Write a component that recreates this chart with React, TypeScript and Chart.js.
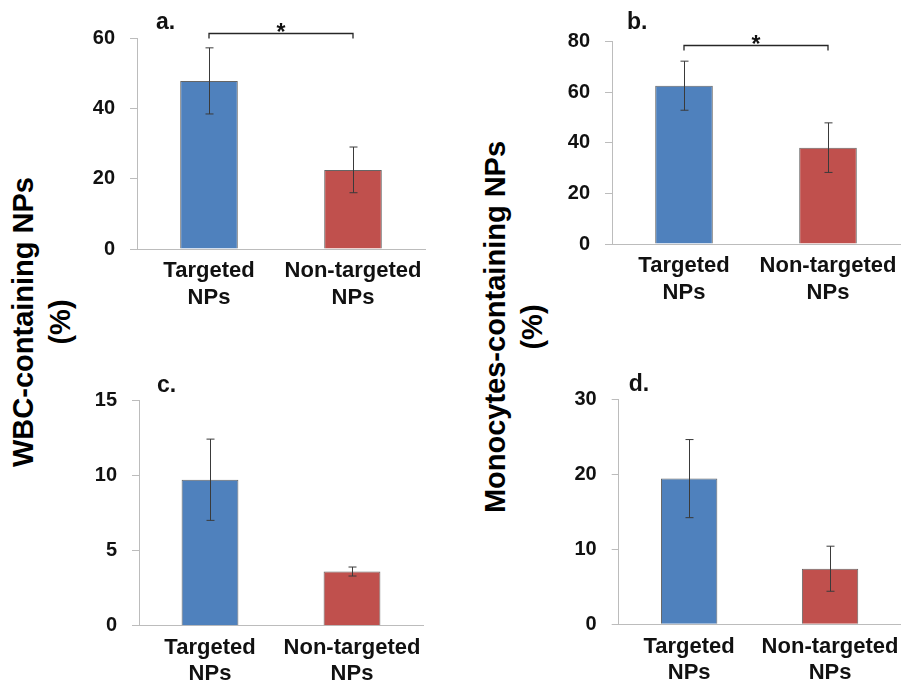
import React, { useEffect, useRef } from 'react';
import { Chart, registerables } from 'chart.js';

Chart.register(...registerables);

// ---------- data ----------
const categories: string[][] = [['Targeted', 'NPs'], ['Non-targeted', 'NPs']];

const wbcAllMeans = [47.8, 22.5];
const wbcAllErrors = [9.4, 6.5];

const monoAllMeans = [62.6, 38.1];
const monoAllErrors = [9.7, 9.8];

const wbcSubMeans = [9.7, 3.6];
const wbcSubErrors = [2.7, 0.3];

const monoSubMeans = [19.4, 7.4];
const monoSubErrors = [5.2, 3.0];

const panelLabels = ['a.', 'b.', 'c.', 'd.'];
const yMaxes = [60, 80, 15, 30];
const ySteps = [20, 20, 5, 10];
const significanceLevels: (number | null)[] = [61.4, 78.8, null, null];
const significanceMark = '*';

const yTitleLeft = ['WBC-containing NPs', '(%)'];
const yTitleRight = ['Monocytes-containing NPs', '(%)'];

const barColors = ['#4F81BD', '#C0504D'];

// ---------- layout (page pixels) ----------
type Box = { x: number; y: number; w: number; h: number };
type Plot = { l: number; t: number; r: number; b: number };
const panelLayouts: { canvas: Box; plot: Plot; label: { dx: number; base: number } }[] = [
  { canvas: { x: 80, y: 0, w: 360, h: 330 }, plot: { l: 137, t: 38, r: 425, b: 249 }, label: { dx: 19, base: 29 } },
  { canvas: { x: 555, y: 0, w: 354, h: 330 }, plot: { l: 612, t: 41.7, r: 900, b: 244 }, label: { dx: 15, base: 29 } },
  { canvas: { x: 80, y: 360, w: 360, h: 329 }, plot: { l: 139, t: 400, r: 423, b: 625.7 }, label: { dx: 18, base: 392 } },
  { canvas: { x: 555, y: 360, w: 354, h: 329 }, plot: { l: 618.7, t: 399, r: 903, b: 624.3 }, label: { dx: 10, base: 391 } },
];

const FONT = "'Liberation Sans', Arial, Helvetica, sans-serif";

function Panel(props: { index: number; means: number[]; errors: number[] }) {
  const ref = useRef<HTMLCanvasElement | null>(null);
  const { index, means, errors } = props;
  const lay = panelLayouts[index];

  useEffect(() => {
    if (!ref.current) return;
    const c = lay.canvas;
    const p = lay.plot;
    const yAxisWidth = p.l - c.x;
    const xAxisHeight = c.y + c.h - p.b;

    const overlay = {
      id: 'overlay' + index,
      afterDatasetsDraw(chart: any) {
        const ctx = chart.ctx;
        const yScale = chart.scales.y;
        const meta = chart.getDatasetMeta(0);
        ctx.save();
        // error bars
        ctx.strokeStyle = '#3a3a3a';
        ctx.lineWidth = 1;
        meta.data.forEach((bar: any, i: number) => {
          const x = Math.round(bar.x) + 0.5;
          const yTop = yScale.getPixelForValue(means[i] + errors[i]);
          const yBot = yScale.getPixelForValue(means[i] - errors[i]);
          ctx.beginPath();
          ctx.moveTo(x, yTop);
          ctx.lineTo(x, yBot);
          ctx.moveTo(x - 4, yTop);
          ctx.lineTo(x + 4, yTop);
          ctx.moveTo(x - 4, yBot);
          ctx.lineTo(x + 4, yBot);
          ctx.stroke();
        });
        // significance bracket
        const lvl = significanceLevels[index];
        if (lvl !== null) {
          const yb = Math.round(yScale.getPixelForValue(lvl)) + 0.5;
          const x0 = meta.data[0].x;
          const x1 = meta.data[1].x;
          ctx.strokeStyle = '#262626';
          ctx.lineWidth = 1.3;
          ctx.beginPath();
          ctx.moveTo(x0, yb + 5);
          ctx.lineTo(x0, yb);
          ctx.lineTo(x1, yb);
          ctx.lineTo(x1, yb + 5);
          ctx.stroke();
          ctx.fillStyle = '#111';
          ctx.font = `bold 23px ${FONT}`;
          ctx.textAlign = 'center';
          ctx.textBaseline = 'alphabetic';
          ctx.fillText(significanceMark, (x0 + x1) / 2, yb + 6);
        }
        // panel label
        ctx.fillStyle = '#111';
        ctx.font = `bold 23px ${FONT}`;
        ctx.textAlign = 'left';
        ctx.textBaseline = 'alphabetic';
        ctx.fillText(panelLabels[index], chart.chartArea.left + lay.label.dx, lay.label.base - c.y);
        ctx.restore();
      },
    };

    const chart = new Chart(ref.current, {
      type: 'bar',
      data: {
        labels: categories,
        datasets: [
          {
            data: means,
            backgroundColor: barColors,
            borderColor: 'rgba(50,50,50,0.75)',
            borderWidth: 1,
            categoryPercentage: 1,
            barPercentage: 0.4,
          },
        ],
      },
      options: {
        animation: false,
        responsive: false,
        maintainAspectRatio: false,
        events: [],
        layout: {
          padding: { left: 0, top: p.t - c.y, right: c.x + c.w - p.r, bottom: 0 },
        },
        plugins: {
          legend: { display: false },
          tooltip: { enabled: false },
          title: { display: false },
        },
        scales: {
          x: {
            grid: { display: false, drawTicks: false },
            border: { display: true, color: '#bcbcbc', width: 1 },
            ticks: {
              color: '#111',
              font: { family: FONT, size: 22, weight: 'bold', lineHeight: 1.2 },
              padding: 9,
              maxRotation: 0,
              minRotation: 0,
              autoSkip: false,
            },
            afterFit: (scale: any) => {
              scale.height = xAxisHeight;
            },
          },
          y: {
            min: 0,
            max: yMaxes[index],
            grid: { display: true, drawOnChartArea: false, drawTicks: true, tickLength: 7, color: '#bcbcbc' },
            border: { display: true, color: '#bcbcbc', width: 1 },
            ticks: {
              stepSize: ySteps[index],
              color: '#111',
              font: { family: FONT, size: 20, weight: 'bold' },
              padding: 15,
            },
            afterFit: (scale: any) => {
              scale.width = yAxisWidth;
            },
          },
        },
      },
      plugins: [overlay],
    } as any);
    return () => chart.destroy();
  }, [index, means, errors]);

  return (
    <canvas
      ref={ref}
      width={lay.canvas.w}
      height={lay.canvas.h}
      style={{ position: 'absolute', left: lay.canvas.x, top: lay.canvas.y, width: lay.canvas.w, height: lay.canvas.h }}
    />
  );
}

function YTitle(props: { lines: string[]; cx: number; cy: number }) {
  return (
    <div
      style={{
        position: 'absolute',
        left: props.cx,
        top: props.cy,
        width: 460,
        transform: 'translate(-50%, -50%) rotate(-90deg)',
        textAlign: 'center',
        fontFamily: FONT,
        fontWeight: 'bold',
        fontSize: 29,
        lineHeight: '37px',
        color: '#000',
        whiteSpace: 'nowrap',
      }}
    >
      {props.lines.map((l, i) => (
        <div key={i}>{l}</div>
      ))}
    </div>
  );
}

export default function App() {
  return (
    <div style={{ position: 'absolute', left: 0, top: 0, width: 909, height: 689, background: '#fff', overflow: 'hidden' }}>
      <YTitle lines={yTitleLeft} cx={42} cy={322} />
      <YTitle lines={yTitleRight} cx={514} cy={327} />
      <Panel index={0} means={wbcAllMeans} errors={wbcAllErrors} />
      <Panel index={1} means={monoAllMeans} errors={monoAllErrors} />
      <Panel index={2} means={wbcSubMeans} errors={wbcSubErrors} />
      <Panel index={3} means={monoSubMeans} errors={monoSubErrors} />
    </div>
  );
}
